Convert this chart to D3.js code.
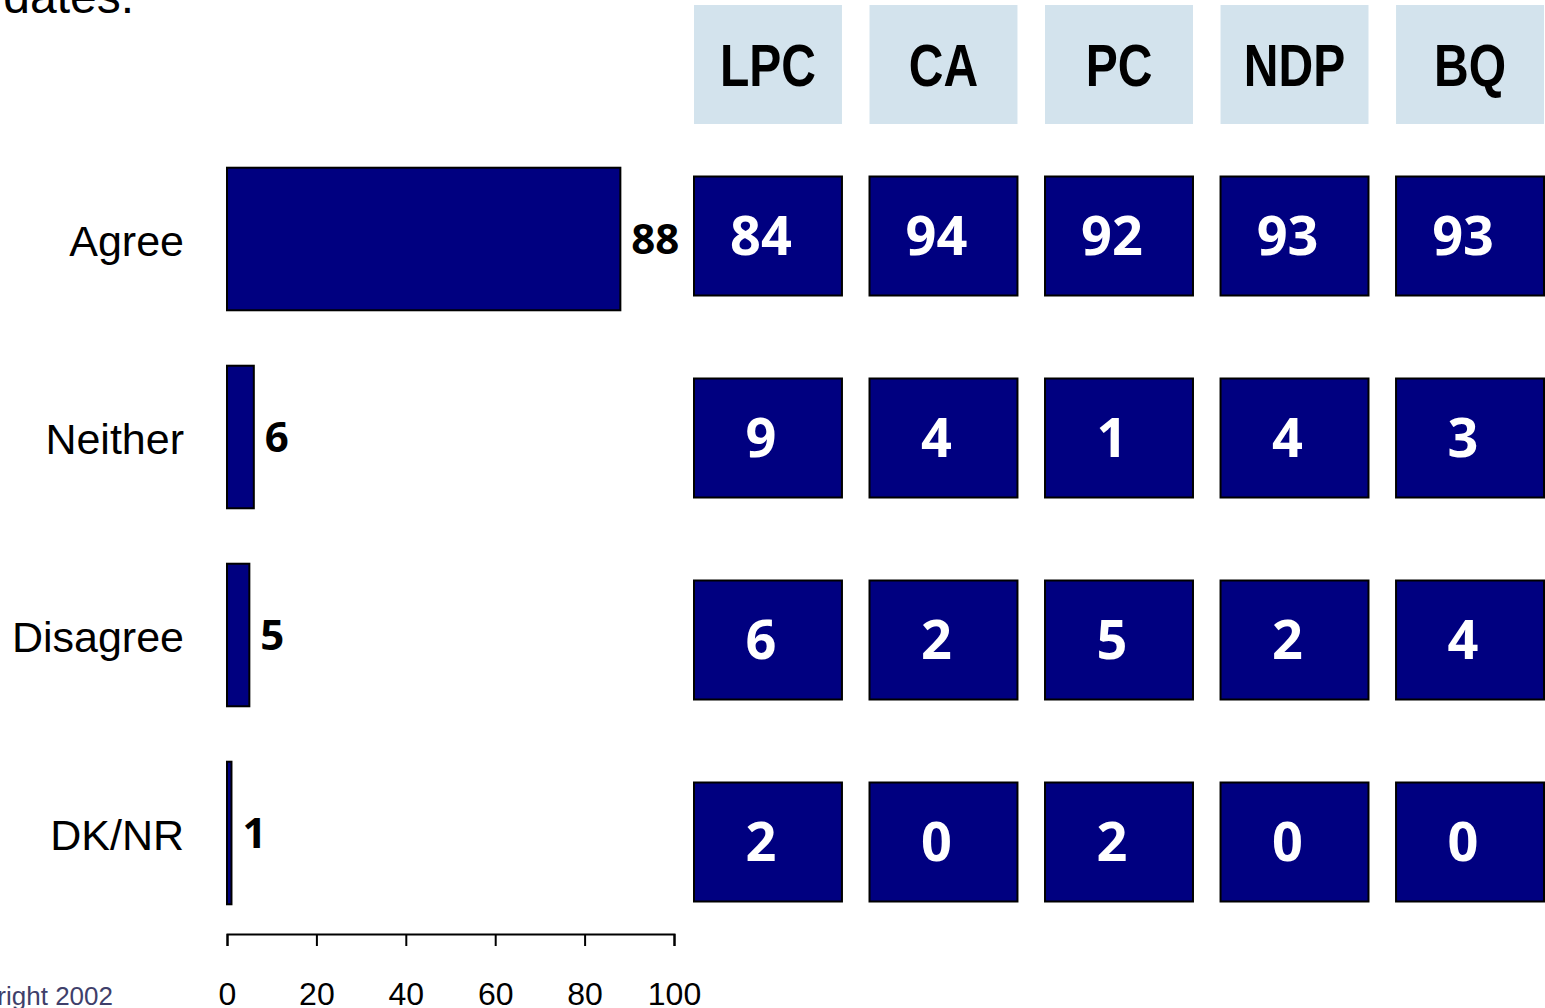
<!DOCTYPE html>
<html>
<head>
<meta charset="utf-8">
<script src="https://d3js.org/d3.v7.min.js"></script>
<style>
  body { margin: 0; background: #fff; overflow: hidden; }
  .cat { font-family: "Liberation Sans", Arial, sans-serif; font-size: 43px; fill: #000; }
  .val { font-family: "Open Sans", sans-serif; font-weight: 700; font-size: 42px; fill: #000; }
  .head { font-family: "Liberation Sans", Arial, sans-serif; font-weight: 700; font-size: 60px; fill: #000; }
  .num { font-family: "Open Sans", sans-serif; font-weight: 700; font-size: 54px; fill: #fff; }
  .axis text { font-family: "Liberation Sans", Arial, sans-serif; font-size: 32px; fill: #000; }
  .axis path, .axis line { stroke: #000; stroke-width: 2px; }
</style>
</head>
<body>
<svg width="1545" height="1008"></svg>
<script>
// overall answers
var categories = ["Agree", "Neither", "Disagree", "DK/NR"];
var overall = [88, 6, 5, 1];
var ticks = [0, 20, 40, 60, 80, 100];

// by party
var parties = ["LPC", "CA", "PC", "NDP", "BQ"];
var lpc = [84, 9, 6, 2];
var ca  = [94, 4, 2, 0];
var pc  = [92, 1, 5, 2];
var ndp = [93, 4, 2, 0];
var bq  = [93, 3, 4, 0];
var byParty = [lpc, ca, pc, ndp, bq];

var svg = d3.select("svg");

var x = d3.scaleLinear().domain([0, 100]).range([227, 674]);
var y = d3.scaleBand().domain(categories).range([140, 932])
  .paddingInner(0.28).paddingOuter(0.14);

// columns / rows of party boxes
var col = d3.scaleBand().domain(parties).range([694, 1544])
  .paddingInner(0.157).paddingOuter(0);
var row = d3.scalePoint().domain(categories).range([236, 842]);
var boxH = 119;

// title remnant and footer (cut off at the page edge)
svg.append("text")
  .attr("x", 134).attr("y", 13)
  .attr("text-anchor", "end")
  .style("font-family", "Liberation Sans, Arial, sans-serif")
  .style("font-size", "48px")
  .text("dates.");

svg.append("text")
  .attr("x", 113).attr("y", 1005)
  .attr("text-anchor", "end")
  .style("font-family", "Liberation Sans, Arial, sans-serif")
  .style("font-size", "26px")
  .style("fill", "#3f3f6b")
  .text("Copyright 2002");

// bars
var bars = svg.append("g");
bars.selectAll("rect")
  .data(overall)
  .enter()
  .append("rect")
  .attr("x", x(0))
  .attr("y", function(d, i) { return y(categories[i]); })
  .attr("width", function(d) { return x(d) - x(0); })
  .attr("height", y.bandwidth())
  .attr("fill", "#000080")
  .attr("stroke", "#000")
  .attr("stroke-width", 2);

bars.selectAll("text.val")
  .data(overall)
  .enter()
  .append("text")
  .attr("class", "val")
  .attr("x", function(d) { return x(d) + 11; })
  .attr("y", function(d, i) { return y(categories[i]) + y.bandwidth() / 2; })
  .attr("dy", "0.36em")
  .text(function(d) { return d; });

bars.selectAll("text.cat")
  .data(categories)
  .enter()
  .append("text")
  .attr("class", "cat")
  .attr("x", 184)
  .attr("y", function(d) { return y(d) + y.bandwidth() / 2 + 2; })
  .attr("dy", "0.36em")
  .attr("text-anchor", "end")
  .text(function(d) { return d; });

svg.append("g")
  .attr("class", "axis")
  .attr("transform", "translate(0,934)")
  .call(d3.axisBottom(x).tickValues(ticks).tickSize(12).tickSizeOuter(12).tickPadding(36));

// party header boxes
var heads = svg.append("g").selectAll("g")
  .data(parties)
  .enter()
  .append("g")
  .attr("transform", function(d) { return "translate(" + col(d) + ",5)"; });

heads.append("rect")
  .attr("width", col.bandwidth())
  .attr("height", boxH)
  .attr("fill", "#d3e3ed");

// condensed bold face, squeezed horizontally
heads.append("text")
  .attr("class", "head")
  .attr("transform", "translate(" + (col.bandwidth() / 2) + ",81) scale(0.8,1)")
  .attr("text-anchor", "middle")
  .text(function(d) { return d; });

// party value boxes
parties.forEach(function(p, j) {
  var g = svg.append("g");
  var cells = g.selectAll("g")
    .data(byParty[j])
    .enter()
    .append("g")
    .attr("transform", function(d, i) {
      return "translate(" + col(p) + "," + (row(categories[i]) - boxH / 2) + ")";
    });

  cells.append("rect")
    .attr("width", col.bandwidth())
    .attr("height", boxH)
    .attr("fill", "#000080")
    .attr("stroke", "#000")
    .attr("stroke-width", 2);

  cells.append("text")
    .attr("class", "num")
    .attr("x", col.bandwidth() / 2 - 7)
    .attr("y", boxH / 2)
    .attr("dy", "0.36em")
    .attr("text-anchor", "middle")
    .text(function(d) { return d; });
});
</script>
</body>
</html>
